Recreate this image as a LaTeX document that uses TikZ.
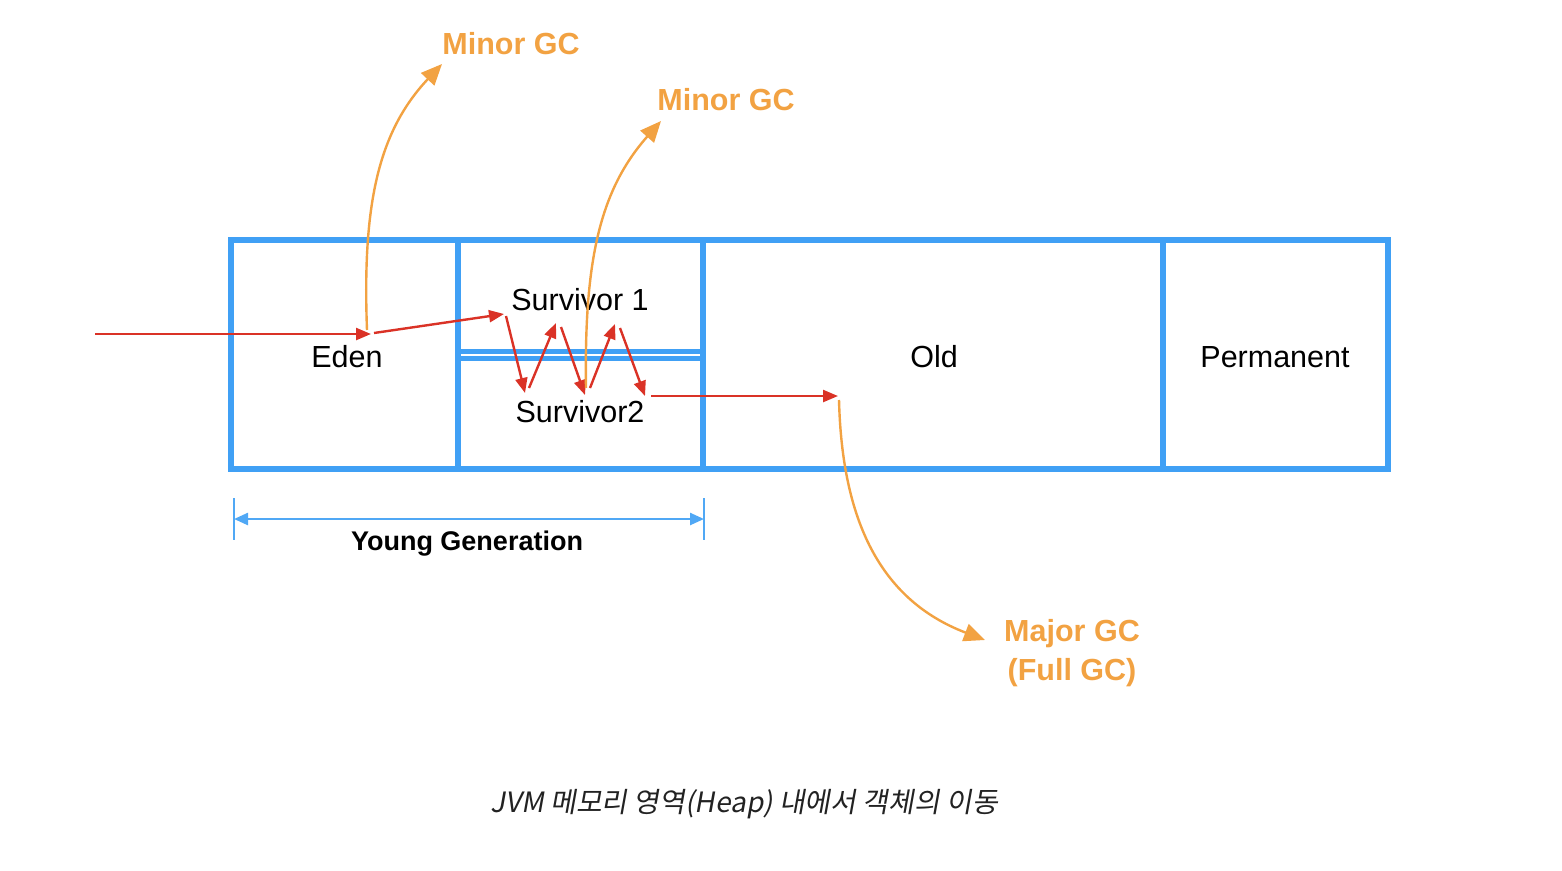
\documentclass[tikz,border=0pt]{standalone}
\usepackage{fontspec}
\setmainfont{Liberation Sans}
\newfontfamily\cjk[FakeSlant=0.18]{Noto Sans CJK KR}
\usetikzlibrary{arrows.meta}
\definecolor{boxblue}{RGB}{64,160,245}
\definecolor{dimblue}{RGB}{80,168,245}
\definecolor{gcorange}{RGB}{242,162,66}
\definecolor{movered}{RGB}{218,50,38}
\definecolor{captiongray}{RGB}{34,34,34}
\tikzset{
  lbl/.style={inner sep=0pt, font=\fontsize{30.5}{34}\selectfont, text=black},
  gclbl/.style={inner sep=0pt, font=\bfseries\fontsize{30.5}{39}\selectfont, text=gcorange, align=center},
  frame/.style={draw=boxblue, line width=6.5pt},
  divider/.style={draw=boxblue, line width=5.5pt},
  move/.style={draw=movered, line width=2.4pt, -{Triangle[length=15pt,width=12pt]}},
  gc/.style={draw=gcorange, line width=2.4pt, -{Triangle[length=21pt,width=18pt]}},
  dim/.style={draw=dimblue, line width=2.4pt},
}
\begin{document}
\begin{tikzpicture}[x=1pt,y=-1pt]
\useasboundingbox (0,0) rectangle (1562,870);
% frame
\draw[frame] (231,240) rectangle (1388,469);
\draw[divider] (458,240) -- (458,469);
\draw[divider] (703,240) -- (703,469);
\draw[divider] (1163,240) -- (1163,469);
\draw[draw=boxblue, line width=5pt] (458,351) -- (703,351);
\draw[draw=boxblue, line width=5pt] (458,358) -- (703,358);
% labels
\node[lbl] (eden) at (347,357) {Eden};
\node[lbl] (s1) at (580,300) {Survivor 1};
\node[lbl] (s2) at (580,412) {Survivor2};
\node[lbl] (old) at (934,357) {Old};
\node[lbl] (perm) at (1275,357) {Permanent};
\node[gclbl] (gc1) at (511,44) {Minor GC};
\node[gclbl] (gc2) at (726,100) {Minor GC};
\node[gclbl] (gc3) at (1072,653) {Major GC\\(Full GC)};
\node[inner sep=0pt, font=\bfseries\fontsize{27}{30}\selectfont] (yg) at (467,544) {Young Generation};
\node[inner sep=0pt, font=\cjk\fontsize{28}{32}\selectfont, text=captiongray] (cap) at (744,804) {JVM 메모리 영역(Heap) 내에서 객체의 이동};
% young generation dimension
\coordinate (ygl) at (234,519);
\coordinate (ygr) at (704,519);
\draw[dim] (234,498) -- (234,540);
\draw[dim] (704,498) -- (704,540);
\draw[dim, {Triangle[length=14pt,width=12pt]}-{Triangle[length=14pt,width=12pt]}] (ygl) -- (ygr);
% red movement path
\coordinate (in) at (95,334);
\coordinate (e1) at (371,334);
\coordinate (e2) at (374,333);
\coordinate (p1) at (504,314);
\coordinate (p1b) at (506,316);
\coordinate (q1) at (525,393);
\coordinate (q1b) at (529,388);
\coordinate (p2) at (556,323);
\coordinate (p2b) at (561,327);
\coordinate (q2) at (585,395);
\coordinate (q2b) at (590,388);
\coordinate (p3) at (615,324);
\coordinate (p3b) at (620,328);
\coordinate (q3) at (645,396);
\coordinate (h1) at (651,396);
\coordinate (h2) at (838,396);
\draw[move] (in) -- (e1);
\draw[move] (e2) -- (p1);
\draw[move] (p1b) -- (q1);
\draw[move] (q1b) -- (p2);
\draw[move] (p2b) -- (q2);
\draw[move] (q2b) -- (p3);
\draw[move] (p3b) -- (q3);
\draw[move] (h1) -- (h2);
% orange GC curves
\coordinate (o1) at (367,330);
\coordinate (t1) at (442,64);
\coordinate (o2) at (586,388);
\coordinate (t2) at (661,121);
\coordinate (o3) at (839,400);
\coordinate (t3) at (985,640);
\draw[gc] (o1) .. controls (362,200) and (380,130) .. (t1);
\draw[gc] (o2) .. controls (584,260) and (600,190) .. (t2);
\draw[gc] (o3) .. controls (842,520) and (880,600) .. (t3);
\end{tikzpicture}
\end{document}
